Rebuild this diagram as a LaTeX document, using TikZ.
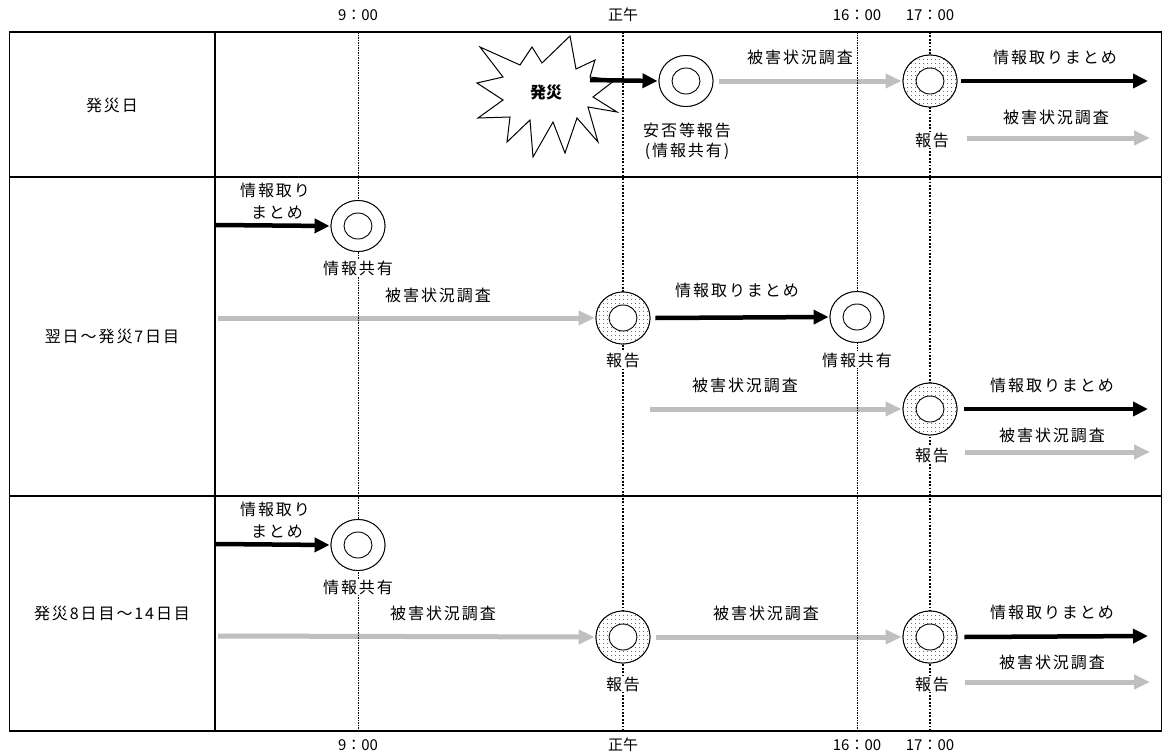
\documentclass[tikz,border=0pt]{standalone}
\usepackage{fontspec}
\setmainfont{Noto Sans CJK JP}[LetterSpace=12]
\newfontfamily\timefont{Noto Sans CJK JP}
\usetikzlibrary{arrows.meta,shapes.geometric,patterns.meta}
\begin{document}
\begin{tikzpicture}[x=1pt,y=-1pt,font=\fontsize{16pt}{19pt}\selectfont,
  lbl/.style={fill=white,inner sep=1pt},
  tml/.style={font=\timefont\fontsize{15pt}{18pt}\selectfont},
  tbl/.style={line width=1.5pt},
  thinv/.style={line width=0.7pt,dash pattern=on 1.5pt off 1pt},
  thickv/.style={line width=1.6pt,dash pattern=on 1.8pt off 1.6pt},
  barb/.style={line width=4.5pt,-{Triangle[length=15pt,width=14pt]}},
  barg/.style={line width=5pt,draw=gray!50,-{Triangle[length=16pt,width=14pt]}},
  dring/.style={draw,line width=0.9pt,ellipse,minimum width=54pt,minimum height=51pt,fill=white,inner sep=0pt},
  pring/.style={draw,line width=0.9pt,ellipse,minimum width=54pt,minimum height=52pt,inner sep=0pt,
     preaction={fill=white},pattern={Dots[distance=4pt,radius=0.6pt]}},
  iring/.style={draw,line width=0.9pt,ellipse,minimum width=28pt,minimum height=26pt,fill=white,inner sep=0pt}]
\useasboundingbox (0,0) rectangle (1163,755);

% table
\draw[tbl] (9.5,32) -- (1161.5,32) -- (1161.5,731) -- (9.5,731) -- cycle;
\draw[tbl] (9.5,177) -- (1161.5,177);
\draw[tbl] (9.5,496) -- (1161.5,496);
\draw[tbl] (215,32) -- (215,731);

% row labels
\node (d1) at (112,105) {発災日};
\node (d2) at (112,336) {翌日～発災7日目};
\node (d3) at (112,613) {発災8日目～14日目};

% time labels
\node[tml] (t9)  at (358,15) {9：00};
\node[tml] (t12) at (623,15) {正午};
\node[tml] (t16) at (857,15) {16：00};
\node[tml] (t17) at (930,15) {17：00};
\node[tml] (b9)  at (358,745) {9：00};
\node[tml] (b12) at (623,745) {正午};
\node[tml] (b16) at (857,745) {16：00};
\node[tml] (b17) at (930,745) {17：00};

% coordinates
\coordinate (starR) at (590,80);
\coordinate (e1) at (1148,81);
\coordinate (g1s) at (967,138);
\coordinate (g1e) at (1150,138);
\coordinate (a2s) at (216,225);
\coordinate (g2s) at (218,318);
\coordinate (g3s) at (650,409);
\coordinate (e2) at (1148,409);
\coordinate (g4s) at (965,452);
\coordinate (g4e) at (1150,452);
\coordinate (a3s) at (216,544);
\coordinate (g5s) at (218,636);
\coordinate (e3) at (1148,636);
\coordinate (g6s) at (965,682);
\coordinate (g6e) at (1150,682);

% circle positions
\path (686,81) node[dring] (c1) {};
\path (930,81) node[pring] (r1) {};
\path (358,226) node[dring] (c2) {};
\path (623,318) node[pring] (r2) {};
\path (857,317) node[dring] (c3) {};
\path (930,409) node[pring] (r3) {};
\path (358,545) node[dring] (c4) {};
\path (623,637) node[pring] (r4) {};
\path (930,637) node[pring] (r5) {};

% arrows
\draw[barg] ([xshift=6pt]c1.east) -- ([xshift=-1pt]r1.west);
\draw[barb] ([xshift=4pt]r1.east) -- (e1);
\draw[barg] (g1s) -- (g1e);
\draw[barb] (a2s) -- ([xshift=-1pt]c2.west);
\draw[barg] (g2s) -- ([xshift=-1pt]r2.west);
\draw[barb] ([xshift=5pt]r2.east) -- ([xshift=-1pt]c3.west);
\draw[barg] (g3s) -- ([xshift=-1pt]r3.west);
\draw[barb] ([xshift=7pt]r3.east) -- (e2);
\draw[barg] (g4s) -- (g4e);
\draw[barb] (a3s) -- ([xshift=-1pt]c4.west);
\draw[barg] (g5s) -- ([xshift=-1pt]r4.west);
\draw[barg] ([xshift=6pt]r4.east) -- ([xshift=-1pt]r5.west);
\draw[barb] ([xshift=7pt]r5.east) -- (e3);
\draw[barg] (g6s) -- (g6e);

% vertical time lines
\draw[thinv] (t9.south |- 0,32) -- (t9.south |- 0,731);
\draw[thickv] (t12.south |- 0,32) -- (t12.south |- 0,731);
\draw[thinv] (t16.south |- 0,32) -- (t16.south |- 0,731);
\draw[thickv] (t17.south |- 0,32) -- (t17.south |- 0,731);

% star
\draw[line width=1pt,fill=white,line join=miter]
  (570,36) -- (576,69) -- (595,60) -- (590,77) -- (615,80) -- (593,97) --
  (617,112) -- (588,107) -- (598,142) -- (577,118) -- (565,153) -- (553,122) --
  (533,157) -- (530,120) -- (507,142) -- (510,117) -- (478,118) -- (503,100) --
  (477,83) -- (503,77) -- (480,47) -- (520,65) -- (532,47) -- (542,63) -- cycle;
\node[font=\timefont\fontsize{16pt}{18pt}\selectfont\bfseries] (hs) at (546,92) {発災};
\draw[barb] (starR) -- ([xshift=-1pt]c1.west);

% circles redrawn on top
\path (c1) node[dring] {} node[iring] (c1i) {};
\path (r1) node[pring] {} node[iring] (r1i) {};
\path (c2) node[dring] {} node[iring] (c2i) {};
\path (r2) node[pring] {} node[iring] (r2i) {};
\path (c3) node[dring] {} node[iring] (c3i) {};
\path (r3) node[pring] {} node[iring] (r3i) {};
\path (c4) node[dring] {} node[iring] (c4i) {};
\path (r4) node[pring] {} node[iring] (r4i) {};
\path (r5) node[pring] {} node[iring] (r5i) {};

% labels row 1
\node[lbl] (l1a) at (687,130) {安否等報告};
\node[lbl] (l1b) at (687,151) {(情報共有)};
\node[lbl] (l1c) at (800,57) {被害状況調査};
\node[lbl] (l1d) at (1055,57) {情報取りまとめ};
\node[lbl] (l1e) at (1056,117) {被害状況調査};
\node[lbl] (l1f) at (932,140) {報告};

% labels row 2
\node[lbl] (l2a) at (275,190) {情報取り};
\node[lbl] (l2b) at (277,213) {まとめ};
\node[lbl] (l2c) at (358,268) {情報共有};
\node[lbl] (l2d) at (438,295) {被害状況調査};
\node[lbl] (l2e) at (623,360) {報告};
\node[lbl] (l2f) at (737,290) {情報取りまとめ};
\node[lbl] (l2g) at (857,360) {情報共有};
\node[lbl] (l2h) at (745,385) {被害状況調査};
\node[lbl] (l2i) at (1052,385) {情報取りまとめ};
\node[lbl] (l2j) at (1052,435) {被害状況調査};
\node[lbl] (l2k) at (932,455) {報告};

% labels row 3
\node[lbl] (l3a) at (275,509) {情報取り};
\node[lbl] (l3b) at (277,532) {まとめ};
\node[lbl] (l3c) at (358,587) {情報共有};
\node[lbl] (l3d) at (443,613) {被害状況調査};
\node[lbl] (l3e) at (623,684) {報告};
\node[lbl] (l3f) at (766,613) {被害状況調査};
\node[lbl] (l3g) at (1052,612) {情報取りまとめ};
\node[lbl] (l3h) at (1052,662) {被害状況調査};
\node[lbl] (l3i) at (932,684) {報告};
\end{tikzpicture}
\end{document}
